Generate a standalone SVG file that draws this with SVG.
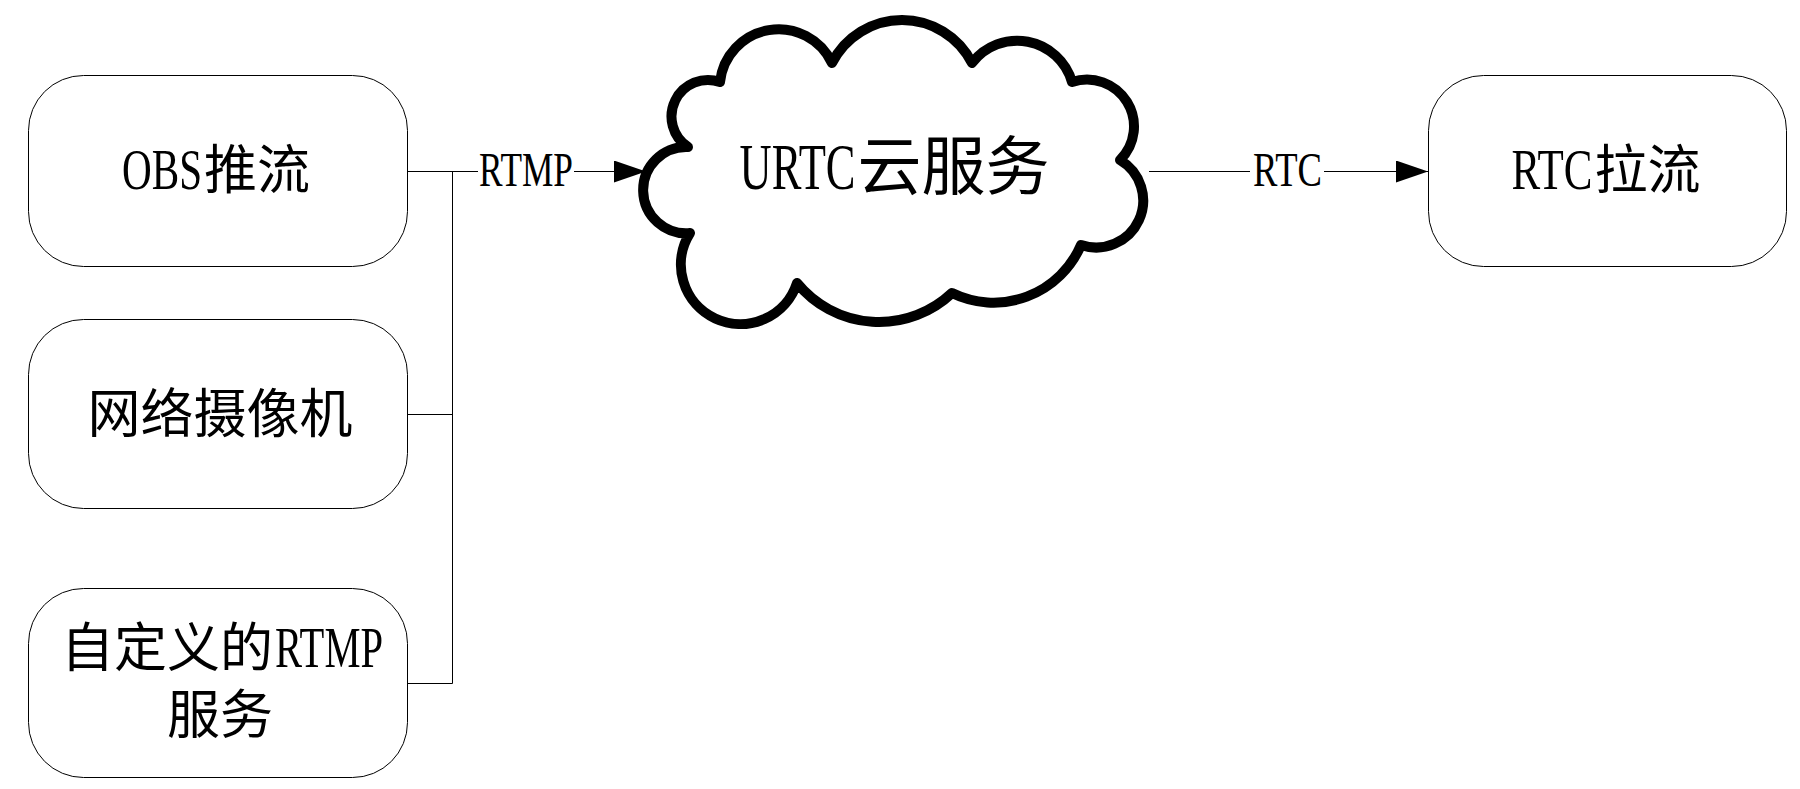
<svg xmlns="http://www.w3.org/2000/svg" width="1800" height="789" viewBox="0 0 1800 789">
<style>
.box{fill:#fff;stroke:#000;stroke-width:1}
.cloud{fill:#fff;stroke:#000;stroke-width:10;stroke-linejoin:round}
.conn{fill:none;stroke:#000;stroke-width:1}
.t{font-family:"Noto Sans CJK SC",sans-serif;font-size:53px;fill:#000}
.lat{font-family:"Liberation Serif",serif;font-size:58px}
.lbl{font-family:"Liberation Serif",serif;font-size:48px;fill:#000}
.ct{font-family:"Noto Sans CJK SC",sans-serif;font-size:64px;fill:#000}
.clat{font-family:"Liberation Serif",serif;font-size:65px}
</style>
<defs>
<marker id="arr" markerUnits="userSpaceOnUse" markerWidth="32" markerHeight="22" refX="32" refY="11" orient="auto">
<path d="M0,0 L32,11 L0,22 Z" fill="#000"/>
</marker>
</defs>
<rect width="1800" height="789" fill="#fff"/>
<g id="connectors">
<path class="conn" d="M407.5,171.5 H478"/>
<path class="conn" d="M574,171.5 H646" marker-end="url(#arr)"/>
<path class="conn" d="M452.5,171.5 V683.5"/>
<path class="conn" d="M407.5,414.5 H452.5"/>
<path class="conn" d="M407.5,683.5 H452.5"/>
<path class="conn" d="M1149,171.5 H1250"/>
<path class="conn" d="M1324,171.5 H1428" marker-end="url(#arr)"/>
<text class="lbl" x="526" y="185.5" text-anchor="middle" textLength="94" lengthAdjust="spacingAndGlyphs">RTMP</text>
<text class="lbl" x="1287.5" y="185.5" text-anchor="middle" textLength="69" lengthAdjust="spacingAndGlyphs">RTC</text>
</g>
<g id="obs">
<rect class="box" x="28.5" y="75.5" width="379" height="191" rx="55" ry="55"/>
<text class="t" x="216" y="189" text-anchor="middle"><tspan class="lat" textLength="80" lengthAdjust="spacingAndGlyphs">OBS</tspan><tspan dx="2">推流</tspan></text>
</g>
<g id="camera">
<rect class="box" x="28.5" y="319.5" width="379" height="189" rx="55" ry="55"/>
<text class="t" x="220" y="433" text-anchor="middle">网络摄像机</text>
</g>
<g id="custom">
<rect class="box" x="28.5" y="588.5" width="379" height="189" rx="55" ry="55"/>
<text class="t" text-anchor="middle"><tspan x="222" y="667">自定义的</tspan><tspan class="lat" dx="2" textLength="108" lengthAdjust="spacingAndGlyphs">RTMP</tspan><tspan x="220" y="734">服务</tspan></text>
</g>
<g id="cloud">
<path class="cloud" d="M688,147 A36.5,36.5 0 0 1 720,82 A59,59 0 0 1 832,63 A78.5,78.5 0 0 1 972,63 A57,57 0 0 1 1072,82 A47,47 0 0 1 1120,160 A47,47 0 0 1 1081,245 A95,95 0 0 1 952,293 A106,106 0 0 1 797,283 A59.5,59.5 0 1 1 690,233 A43.1,43.1 0 1 1 688,147 Z"/>
<text class="ct" x="894.5" y="189" text-anchor="middle"><tspan class="clat" textLength="116" lengthAdjust="spacingAndGlyphs">URTC</tspan><tspan dx="2">云服务</tspan></text>
</g>
<g id="rtc">
<rect class="box" x="1428.5" y="75.5" width="358" height="191" rx="55" ry="55"/>
<text class="t" x="1606" y="189" text-anchor="middle"><tspan class="lat" textLength="81" lengthAdjust="spacingAndGlyphs">RTC</tspan><tspan dx="2">拉流</tspan></text>
</g>
</svg>
